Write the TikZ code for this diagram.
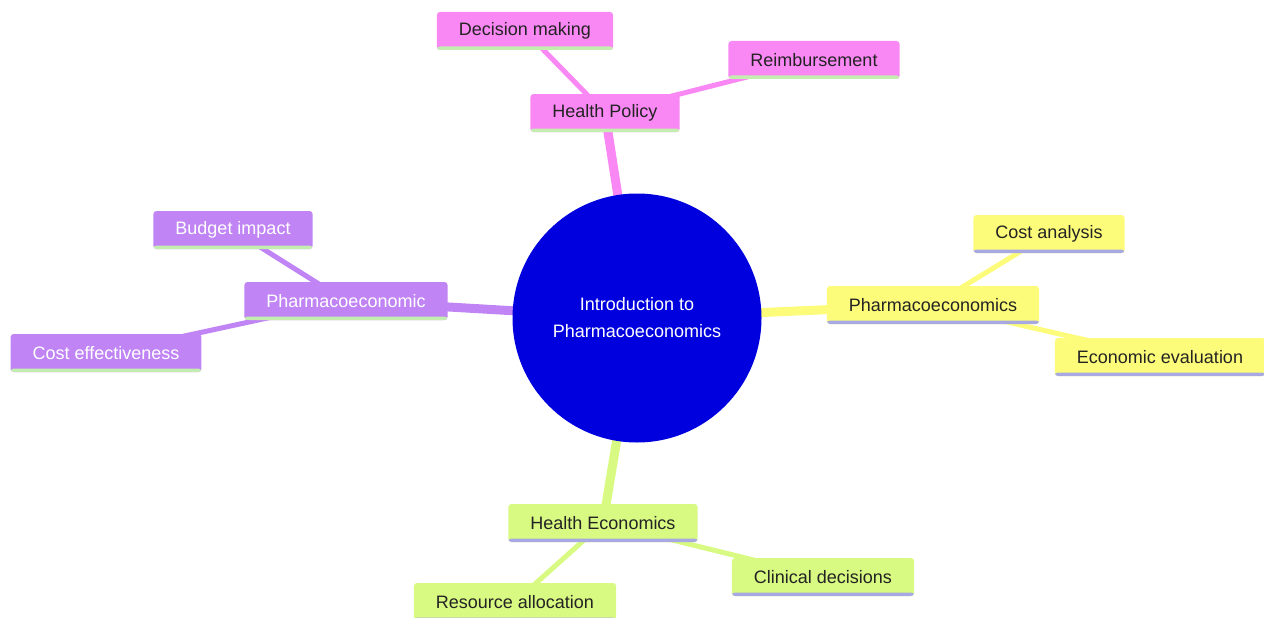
\documentclass[tikz,border=0pt]{standalone}
\usepackage{fontspec}
\setmainfont{Liberation Sans}
\pgfdeclarelayer{bg}
\pgfsetlayers{bg,main}
\definecolor{cpink}{RGB}{249,136,244}
\definecolor{cpurple}{RGB}{192,132,245}
\definecolor{cyellow}{RGB}{252,252,122}
\definecolor{cgreen}{RGB}{216,249,130}
\definecolor{cblue}{RGB}{0,0,222}
\definecolor{ulgreen}{RGB}{196,238,176}
\definecolor{ullav}{RGB}{168,168,226}
\definecolor{dtext}{RGB}{35,35,35}
\tikzset{
  x=1pt, y=-1pt,
  every node/.style={font=\fontsize{18}{27}\selectfont},
  box/.style={rectangle, rounded corners=3pt, inner xsep=22pt, inner ysep=0pt, minimum height=38pt},
  ul/.style={path picture={\fill[#1] ([yshift=3.5pt]path picture bounding box.south west) rectangle (path picture bounding box.south east);}},
  pinkbox/.style={box, fill=cpink, text=dtext, ul=ulgreen},
  purplebox/.style={box, fill=cpurple, text=white, ul=ulgreen},
  yellowbox/.style={box, fill=cyellow, text=dtext, ul=ullav},
  greenbox/.style={box, fill=cgreen, text=dtext, ul=ullav},
  mainedge/.style={line width=9pt},
  subedge/.style={line width=5pt},
}
\begin{document}
\begin{tikzpicture}
\useasboundingbox (0,0) rectangle (1264,618);
\node[circle, fill=cblue, text=white, align=center, minimum size=249pt, inner sep=0pt] (root) at (637,318) {Introduction to\\Pharmacoeconomics};
% pink branch
\node[pinkbox] (hp) at (605,113) {Health Policy};
\node[pinkbox] (dm) at (525,31) {Decision making};
\node[pinkbox] (rb) at (814,60) {Reimbursement};
% purple branch
\node[purplebox] (pe) at (346,301) {Pharmacoeconomic};
\node[purplebox] (bi) at (233,230) {Budget impact};
\node[purplebox] (ce) at (106,353) {Cost effectiveness};
% yellow branch
\node[yellowbox] (ps) at (933,305) {Pharmacoeconomics};
\node[yellowbox] (ca) at (1049,234) {Cost analysis};
\node[yellowbox] (ee) at (1160,357) {Economic evaluation};
% green branch
\node[greenbox] (he) at (603,523) {Health Economics};
\node[greenbox] (ra) at (515,602) {Resource allocation};
\node[greenbox] (cd) at (823,577) {Clinical decisions};
\begin{pgfonlayer}{bg}
\draw[mainedge, cpink] (root.center) -- (hp.center);
\draw[subedge, cpink] (hp.center) -- (dm.center);
\draw[subedge, cpink] (hp.center) -- (rb.center);
\draw[mainedge, cpurple] (root.center) -- (pe.center);
\draw[subedge, cpurple] (pe.center) -- (bi.center);
\draw[subedge, cpurple] (pe.center) -- (ce.center);
\draw[mainedge, cyellow] (root.center) -- (ps.center);
\draw[subedge, cyellow] (ps.center) -- (ca.center);
\draw[subedge, cyellow] (ps.center) -- (ee.center);
\draw[mainedge, cgreen] (root.center) -- (he.center);
\draw[subedge, cgreen] (he.center) -- (ra.center);
\draw[subedge, cgreen] (he.center) -- (cd.center);
\end{pgfonlayer}
\end{tikzpicture}
\end{document}
